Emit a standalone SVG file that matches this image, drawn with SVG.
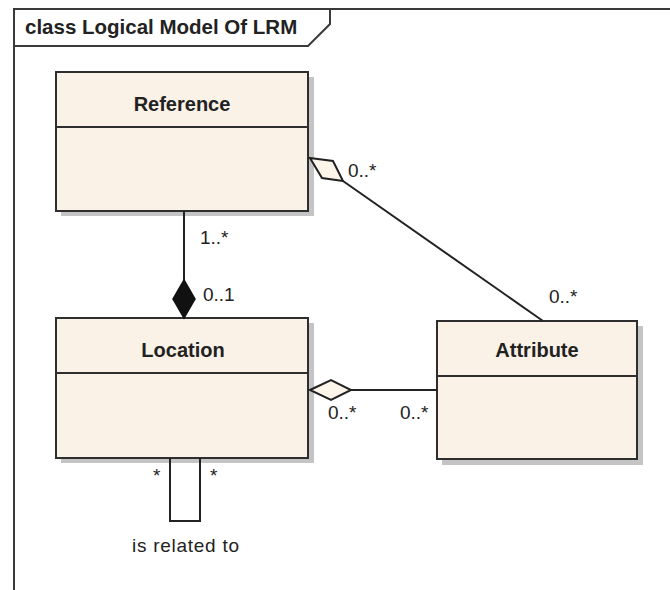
<svg xmlns="http://www.w3.org/2000/svg" width="670" height="590" viewBox="0 0 670 590">
  <style>
    .frame { fill: none; stroke: #3a3a3a; stroke-width: 2; }
    .shadow { fill: #c4c4c4; }
    .box { fill: #fbf2e7; stroke: #2e2e2e; stroke-width: 2; }
    .sep { stroke: #2e2e2e; stroke-width: 2; }
    .name { font-family: "Liberation Sans", Arial, sans-serif; font-weight: bold; font-size: 20px; fill: #222; text-anchor: middle; }
    .title { font-family: "Liberation Sans", Arial, sans-serif; font-weight: bold; font-size: 20.5px; fill: #222; }
    .lbl { font-family: "Liberation Sans", Arial, sans-serif; font-size: 19px; fill: #222; }
    .conn { fill: none; stroke: #222; stroke-width: 2; }
    .hollow { fill: #fdf5ea; stroke: #222; stroke-width: 2; stroke-linejoin: miter; }
    .filled { fill: #111; stroke: #111; stroke-width: 1.5; }
  </style>

  <!-- package frame with title tab -->
  <g id="frame">
    <path class="frame" d="M14,590 V9 H670"/>
    <path class="frame" d="M14,46 H308 L330,24 V9"/>
    <text class="title" x="25" y="34">class Logical Model Of LRM</text>
  </g>

  <!-- classes -->
  <g id="Reference">
    <rect class="shadow" x="61" y="77" width="253" height="139"/>
    <rect class="box" x="56" y="72" width="252" height="139"/>
    <line class="sep" x1="56" y1="127" x2="308" y2="127"/>
    <text class="name" x="182" y="111">Reference</text>
  </g>

  <g id="Location">
    <rect class="shadow" x="61" y="323" width="253" height="140"/>
    <rect class="box" x="56" y="318" width="252" height="140"/>
    <line class="sep" x1="56" y1="373" x2="308" y2="373"/>
    <text class="name" x="183" y="357">Location</text>
  </g>

  <g id="Attribute">
    <rect class="shadow" x="442" y="326" width="201" height="139"/>
    <rect class="box" x="437" y="321" width="200" height="138"/>
    <line class="sep" x1="437" y1="376" x2="637" y2="376"/>
    <text class="name" x="537" y="357">Attribute</text>
  </g>

  <!-- associations -->
  <g id="connectors">
    <!-- Reference composes Location -->
    <line class="conn" x1="184" y1="211" x2="184" y2="280"/>
    <polygon class="filled" points="184,280 195,299 184,318 173,299"/>
    <text class="lbl" x="200" y="244">1..*</text>
    <text class="lbl" x="203" y="301">0..1</text>

    <!-- Reference aggregates Attribute -->
    <line class="conn" x1="343" y1="181" x2="543" y2="321"/>
    <polygon class="hollow" points="310,158 333,161 343,181 322,178"/>
    <text class="lbl" x="348" y="177">0..*</text>
    <text class="lbl" x="549" y="303">0..*</text>

    <!-- Location aggregates Attribute -->
    <line class="conn" x1="351" y1="390" x2="437" y2="390"/>
    <polygon class="hollow" points="310,390 331,380 351,390 331,400"/>
    <text class="lbl" x="328" y="419">0..*</text>
    <text class="lbl" x="400" y="419">0..*</text>

    <!-- Location self association -->
    <path class="conn" d="M170,458 V521 H200 V458"/>
    <text class="lbl" x="153" y="482">*</text>
    <text class="lbl" x="210" y="482">*</text>
    <text class="lbl" x="132" y="552" textLength="107" lengthAdjust="spacing">is related to</text>
  </g>
</svg>
